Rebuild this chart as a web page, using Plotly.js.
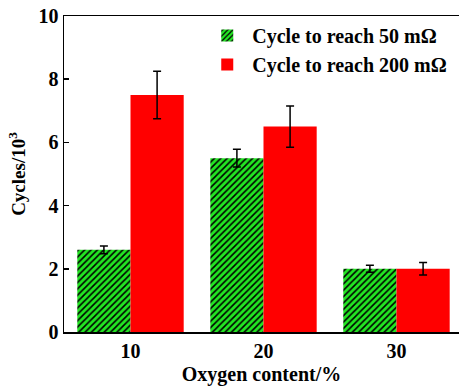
<!DOCTYPE html>
<html><head><meta charset="utf-8">
<script src="https://cdn.plot.ly/plotly-3.0.1.min.js"></script>
<style>html,body{margin:0;padding:0;background:#fff}#chart{width:459px;height:387px}</style>
</head><body><div id="chart"></div>
<script>
const categories = ['10', '20', '30'];
const cycles50 = [2.6, 5.5, 2.0];
const err50 = [0.12, 0.28, 0.11];
const cycles200 = [7.5, 6.5, 2.0];
const err200 = [0.75, 0.65, 0.2];
const seriesNames = ['Cycle to reach 50 mΩ', 'Cycle to reach 200 mΩ'];

const fam = 'Liberation Serif, Times New Roman, serif';
const bf = (s) => ({family: fam, size: s, color: '#000', weight: 700});

const traces = [
  {type: 'bar', x: categories, y: cycles50, name: '<b>' + seriesNames[0] + '</b>',
   marker: {color: '#22e622', line: {width: 0},
            pattern: {shape: '/', fgcolor: '#000', bgcolor: '#22e622', size: 4.5, solidity: 0.35, fillmode: 'replace'}},
   error_y: {type: 'data', array: err50, visible: true, color: '#000', thickness: 1.5, width: 4}},
  {type: 'bar', x: categories, y: cycles200, name: '<b>' + seriesNames[1] + '</b>',
   marker: {color: '#ff0000', line: {width: 0}},
   error_y: {type: 'data', array: err200, visible: true, color: '#000', thickness: 1.5, width: 4}}
];

const layout = {
  width: 459, height: 387,
  margin: {l: 64, r: 0, t: 16, b: 55},
  paper_bgcolor: '#fff', plot_bgcolor: '#fff',
  font: bf(20),
  barmode: 'group', bargap: 0.2, bargroupgap: 0,
  showlegend: true,
  legend: {x: 0.35, y: 1.0, xanchor: 'left', yanchor: 'top', bgcolor: 'rgba(0,0,0,0)',
           font: bf(20), tracegroupgap: 0, itemwidth: 40},
  xaxis: {type: 'category', range: [-0.5, 2.47], showline: true, linecolor: '#000', linewidth: 1.5,
          mirror: true, ticks: '', showgrid: false, zeroline: false,
          tickfont: bf(20), tickprefix: '<b>', ticksuffix: '</b>',
          title: {text: '<b>Oxygen content/%</b>', standoff: 6, font: bf(20)}},
  yaxis: {range: [0, 10], dtick: 2, showline: true, linecolor: '#000', linewidth: 1.5,
          ticks: 'inside', ticklen: 5, tickwidth: 1.5, tickcolor: '#000',
          showgrid: false, zeroline: false,
          tickfont: bf(20), tickprefix: '<b>', ticksuffix: '</b>',
          title: {text: '<b>Cycles/10<sup>3</sup></b>', standoff: 8, font: bf(19)}}
};

Plotly.newPlot('chart', traces, layout, {displayModeBar: false, staticPlot: true});
</script>
</body></html>
